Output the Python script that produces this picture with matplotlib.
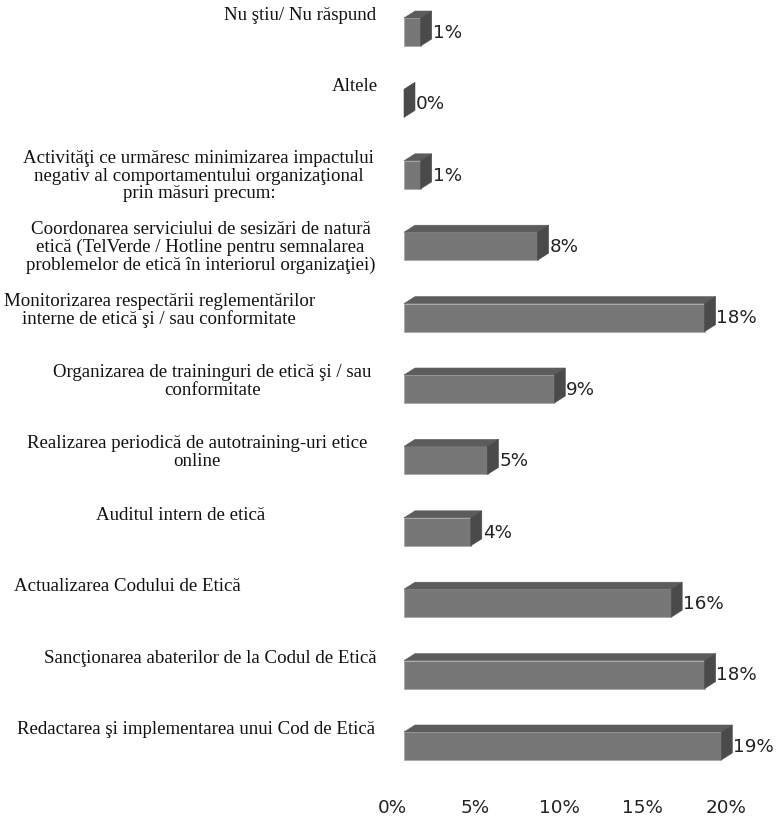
import matplotlib.pyplot as plt
import matplotlib.transforms as mtransforms
from matplotlib.patches import Polygon

# categories listed bottom to top
categories = [
    'Redactarea şi implementarea unui Cod de Etică',
    'Sancţionarea abaterilor de la Codul de Etică',
    'Actualizarea Codului de Etică',
    'Auditul intern de etică',
    'Realizarea periodică de autotraining-uri etice\nonline',
    'Organizarea de traininguri de etică şi / sau\nconformitate',
    'Monitorizarea respectării reglementărilor\ninterne de etică şi / sau conformitate',
    'Coordonarea serviciului de sesizări de natură\netică (TelVerde / Hotline pentru semnalarea\nproblemelor de etică în interiorul organizaţiei)',
    'Activităţi ce urmăresc minimizarea impactului\nnegativ al comportamentului organizaţional\nprin măsuri precum:',
    'Altele',
    'Nu ştiu/ Nu răspund',
]
values = [19, 18, 16, 4, 5, 9, 18, 8, 1, 0, 1]
tick_values = [0, 5, 10, 15, 20]

# horizontal centre of each label block (figure fraction)
label_cx = [0.252, 0.269, 0.163, 0.231, 0.253, 0.272, 0.204, 0.257, 0.255, 0.455, 0.385]

FRONT = '#777777'
TOP   = '#5c5c5c'
SIDE  = '#4a4a4a'
EDGE  = '#a8a8a8'

W, H = 780, 816
PX_PER_PCT = 16.7
X0 = 404          # pixel position of 0 %
ROW = 71.4        # pixel distance between bars
Y0 = 746          # pixel (from top) of the lowest bar centre

fig = plt.figure(figsize=(W / 100, H / 100), dpi=100)
ax = fig.add_axes([0, 0, 1, 1])
ax.set_xlim(-X0 / PX_PER_PCT, (W - X0) / PX_PER_PCT)
ax.set_ylim(-(H - Y0) / ROW, Y0 / ROW)
ax.axis('off')

half = 14 / ROW          # half height of the front face
dx = 11 / PX_PER_PCT     # depth offset
dy = 7 / ROW

for i, v in enumerate(values):
    y = i
    front = [(0, y - half), (v, y - half), (v, y + half), (0, y + half)]
    top = [(0, y + half), (v, y + half), (v + dx, y + half + dy), (dx, y + half + dy)]
    side = [(v, y - half), (v + dx, y - half + dy), (v + dx, y + half + dy), (v, y + half)]
    ax.add_patch(Polygon(front, closed=True, facecolor=FRONT, edgecolor=EDGE, linewidth=0.6))
    ax.add_patch(Polygon(top, closed=True, facecolor=TOP, edgecolor=TOP, linewidth=0.4))
    ax.add_patch(Polygon(side, closed=True, facecolor=SIDE, edgecolor=SIDE, linewidth=0.4))
    ax.text(v + dx + 0.05, y - 0.01, f'{v}%', ha='left', va='center',
            fontsize=13.2, color='#222222', family='DejaVu Sans')

# category labels sit above-left of their bar
blend = mtransforms.blended_transform_factory(fig.transFigure, ax.transData)
for i, (lab, cx) in enumerate(zip(categories, label_cx)):
    ax.text(cx, i + 25 / ROW, lab, transform=blend, ha='center', va='top',
            multialignment='center', fontsize=13.6, linespacing=1.06,
            color='#111111', family='Liberation Serif')

# value axis labels, drawn slightly left of the front plane
shift = mtransforms.ScaledTranslation(-12 / 100, 0, fig.dpi_scale_trans)
for t in tick_values:
    ax.text(t, -(808 - Y0) / ROW, f'{t}%', ha='center', va='center',
            fontsize=13.2, color='#222222', family='DejaVu Sans',
            transform=ax.transData + shift)

fig.savefig('out.png', dpi=100, facecolor='white')
